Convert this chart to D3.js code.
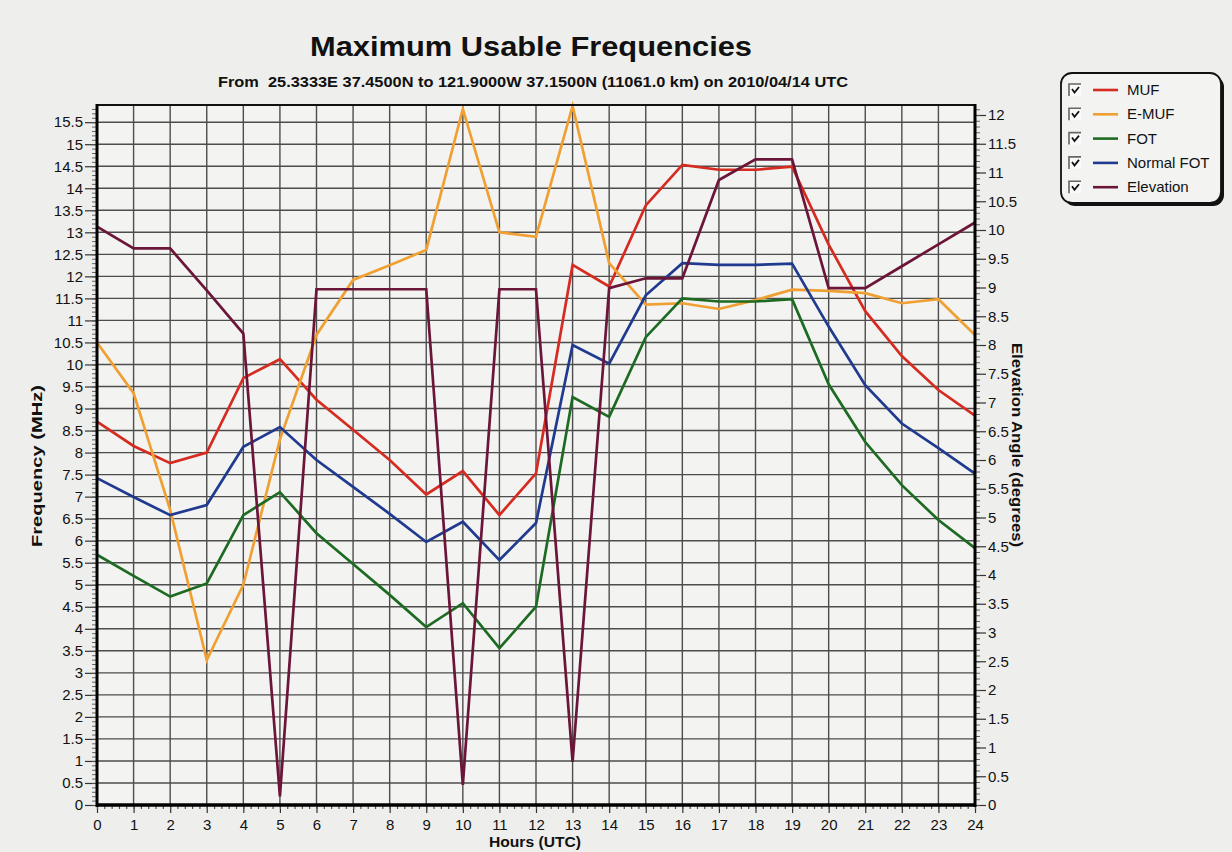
<!DOCTYPE html>
<html>
<head>
<meta charset="utf-8">
<script src="https://cdn.jsdelivr.net/npm/d3@7"></script>
<style>
  html, body { margin: 0; padding: 0; background: #eeeeec; }
  svg { display: block; }
  text { font-family: "Liberation Sans", Arial, Helvetica, sans-serif; fill: #111; }
</style>
</head>
<body>
<svg id="chart" width="1232" height="852"></svg>
<script>
// ---- data ----
const hours = [0,1,2,3,4,5,6,7,8,9,10,11,12,13,14,15,16,17,18,19,20,21,22,23,24];
const muf = [8.7,8.15,7.76,8.0,9.69,10.12,9.2,8.52,7.83,7.05,7.58,6.58,7.53,12.26,11.77,13.61,14.53,14.42,14.42,14.49,12.72,11.21,10.19,9.42,8.84];
const emuf = [10.5,9.35,6.7,3.29,5.0,8.3,10.67,11.92,12.25,12.6,15.8,13.0,12.9,15.87,12.3,11.36,11.39,11.26,11.46,11.7,11.67,11.62,11.39,11.48,10.67];
const fot = [5.68,5.2,4.73,5.03,6.58,7.1,6.17,5.47,4.77,4.04,4.58,3.56,4.5,9.26,8.81,10.62,11.5,11.43,11.43,11.48,9.55,8.24,7.26,6.47,5.83];
const normalFot = [7.42,6.99,6.58,6.81,8.13,8.58,7.83,7.22,6.61,5.97,6.43,5.56,6.4,10.44,10.02,11.57,12.3,12.26,12.26,12.29,10.86,9.53,8.66,8.1,7.52];
const elevation = [10.06,9.68,9.68,8.95,8.2,0.15,8.97,8.97,8.97,8.97,0.35,8.97,8.97,0.75,8.99,9.16,9.16,10.87,11.23,11.23,8.99,8.99,9.37,9.75,10.13];

const seriesNames = ["MUF","E-MUF","FOT","Normal FOT","Elevation"];
const seriesColors = ["#d52b20","#f0a032","#1d6b22","#1f3a8e","#6b1538"];
const freqTicks = [0,0.5,1,1.5,2,2.5,3,3.5,4,4.5,5,5.5,6,6.5,7,7.5,8,8.5,9,9.5,10,10.5,11,11.5,12,12.5,13,13.5,14,14.5,15,15.5];
const elevTicks = [0,0.5,1,1.5,2,2.5,3,3.5,4,4.5,5,5.5,6,6.5,7,7.5,8,8.5,9,9.5,10,10.5,11,11.5,12];

const titleText = "Maximum Usable Frequencies";
const subtitleText = "From  25.3333E 37.4500N to 121.9000W 37.1500N (11061.0 km) on 2010/04/14 UTC";

// ---- layout ----
const L = 97, R = 975, T = 105, B = 805;
const svg = d3.select("#chart");

const x = d3.scaleLinear().domain([0, 24]).range([L, R]);
const yL = d3.scaleLinear().domain([0, 15.89]).range([B, T]);
const yR = d3.scaleLinear().domain([0, 12.174]).range([B, T]);

// plot background
svg.append("rect").attr("x", L).attr("y", T).attr("width", R - L).attr("height", B - T).attr("fill", "#f3f3f1");

// grid
const grid = svg.append("g").attr("stroke", "#4d4d4d").attr("stroke-width", 1.4);
grid.selectAll("line.h").data(freqTicks.filter(d => d > 0)).join("line")
  .attr("x1", L).attr("x2", R).attr("y1", d => yL(d)).attr("y2", d => yL(d));
grid.selectAll("line.v").data(hours.filter(d => d > 0 && d < 24)).join("line")
  .attr("y1", T).attr("y2", B).attr("x1", d => x(d)).attr("x2", d => x(d));

// axes
const fmt = d => String(d);
const leftAxis = svg.append("g").attr("transform", `translate(${L},0)`)
  .call(d3.axisLeft(yL).tickValues(freqTicks).tickFormat(fmt).tickSize(12).tickPadding(2));
const leftMinor = svg.append("g").attr("transform", `translate(${L},0)`)
  .call(d3.axisLeft(yL).tickValues(d3.range(0, 15.85, 0.1)).tickFormat("").tickSize(5));
const rightAxis = svg.append("g").attr("transform", `translate(${R},0)`)
  .call(d3.axisRight(yR).tickValues(elevTicks).tickFormat(fmt).tickSize(11).tickPadding(2));
const rightMinor = svg.append("g").attr("transform", `translate(${R},0)`)
  .call(d3.axisRight(yR).tickValues(d3.range(0, 12.15, 0.1)).tickFormat("").tickSize(5));
const bottomAxis = svg.append("g").attr("transform", `translate(0,${B})`)
  .call(d3.axisBottom(x).tickValues(hours).tickFormat(fmt).tickSize(8).tickPadding(6));
const bottomMinor = svg.append("g").attr("transform", `translate(0,${B})`)
  .call(d3.axisBottom(x).tickValues(d3.range(0, 24.01, 0.2)).tickFormat("").tickSize(4));

[leftAxis, leftMinor, rightAxis, rightMinor, bottomAxis, bottomMinor].forEach(g => {
  g.select(".domain").remove();
  g.selectAll(".tick line").attr("stroke", "#333").attr("stroke-width", 1.2);
  g.selectAll(".tick text").style("font-size", "15px").attr("fill", "#1a1a1a");
});
leftMinor.selectAll(".tick line").attr("stroke-width", 0.9).attr("stroke", "#555");
rightMinor.selectAll(".tick line").attr("stroke-width", 0.9).attr("stroke", "#555");
bottomMinor.selectAll(".tick line").attr("stroke-width", 1.2).attr("stroke", "#555");

// series lines
const allSeries = [muf, emuf, fot, normalFot, elevation];
const lineL = d3.line().x((d, i) => x(hours[i])).y(d => yL(d));
const lineR = d3.line().x((d, i) => x(hours[i])).y(d => yR(d));
const plot = svg.append("g");
allSeries.forEach((s, k) => {
  plot.append("path").datum(s)
    .attr("d", k === 4 ? lineR : lineL)
    .attr("fill", "none")
    .attr("stroke", seriesColors[k])
    .attr("stroke-width", 2.7)
    .attr("stroke-linejoin", "miter")
    .attr("stroke-miterlimit", 10);
});

// frame
svg.append("line").attr("x1", L).attr("x2", R).attr("y1", T).attr("y2", T).attr("stroke", "#111").attr("stroke-width", 2);
svg.append("line").attr("x1", L).attr("x2", L).attr("y1", T - 1).attr("y2", B + 2).attr("stroke", "#000").attr("stroke-width", 3);
svg.append("line").attr("x1", R).attr("x2", R).attr("y1", T - 1).attr("y2", B + 2).attr("stroke", "#000").attr("stroke-width", 3);
svg.append("line").attr("x1", L - 1).attr("x2", R + 1).attr("y1", B).attr("y2", B).attr("stroke", "#000").attr("stroke-width", 3.5);

// titles
svg.append("text").attr("x", 531).attr("y", 56).attr("text-anchor", "middle")
  .attr("textLength", 442).attr("lengthAdjust", "spacingAndGlyphs")
  .style("font-size", "28px").style("font-weight", "bold").text(titleText);
svg.append("text").attr("x", 533).attr("y", 87).attr("text-anchor", "middle")
  .attr("textLength", 630).attr("lengthAdjust", "spacingAndGlyphs")
  .style("white-space", "pre")
  .style("font-size", "14.5px").style("font-weight", "bold").text(subtitleText);

// axis titles
svg.append("text").attr("transform", "translate(42,466) rotate(-90)").attr("text-anchor", "middle")
  .attr("textLength", 162).attr("lengthAdjust", "spacingAndGlyphs")
  .style("font-size", "15px").style("font-weight", "bold").text("Frequency (MHz)");
svg.append("text").attr("transform", "translate(1012,445) rotate(90)").attr("text-anchor", "middle")
  .attr("textLength", 204).attr("lengthAdjust", "spacingAndGlyphs")
  .style("font-size", "15px").style("font-weight", "bold").text("Elevation Angle (degrees)");
svg.append("text").attr("x", 535).attr("y", 847).attr("text-anchor", "middle")
  .attr("textLength", 92).attr("lengthAdjust", "spacingAndGlyphs")
  .style("font-size", "15px").style("font-weight", "bold").text("Hours (UTC)");

// legend
const lg = svg.append("g");
lg.append("rect").attr("x", 1064).attr("y", 76).attr("width", 160).attr("height", 130).attr("rx", 11)
  .attr("fill", "#111");
lg.append("rect").attr("x", 1061).attr("y", 73).attr("width", 160).attr("height", 130).attr("rx", 11)
  .attr("fill", "#f3f3f1").attr("stroke", "#111").attr("stroke-width", 1.8);
seriesNames.forEach((name, i) => {
  const cy = 90 + i * 24.3;
  const row = lg.append("g");
  row.append("rect").attr("x", 1069).attr("y", cy - 6).attr("width", 12).attr("height", 12).attr("fill", "#fafafa");
  row.append("path").attr("d", `M1069,${cy + 6} V${cy - 6} H1081`).attr("fill", "none").attr("stroke", "#666").attr("stroke-width", 1.6);
  row.append("path").attr("d", `M1072,${cy - 1} L1074.5,${cy + 2.5} L1079,${cy - 3}`).attr("fill", "none").attr("stroke", "#111").attr("stroke-width", 1.8);
  row.append("line").attr("x1", 1093).attr("x2", 1118).attr("y1", cy).attr("y2", cy)
    .attr("stroke", seriesColors[i]).attr("stroke-width", 2.6);
  row.append("text").attr("x", 1127).attr("y", cy + 5).style("font-size", "15px").attr("fill", "#1a1a1a").text(name);
});
</script>
</body>
</html>
